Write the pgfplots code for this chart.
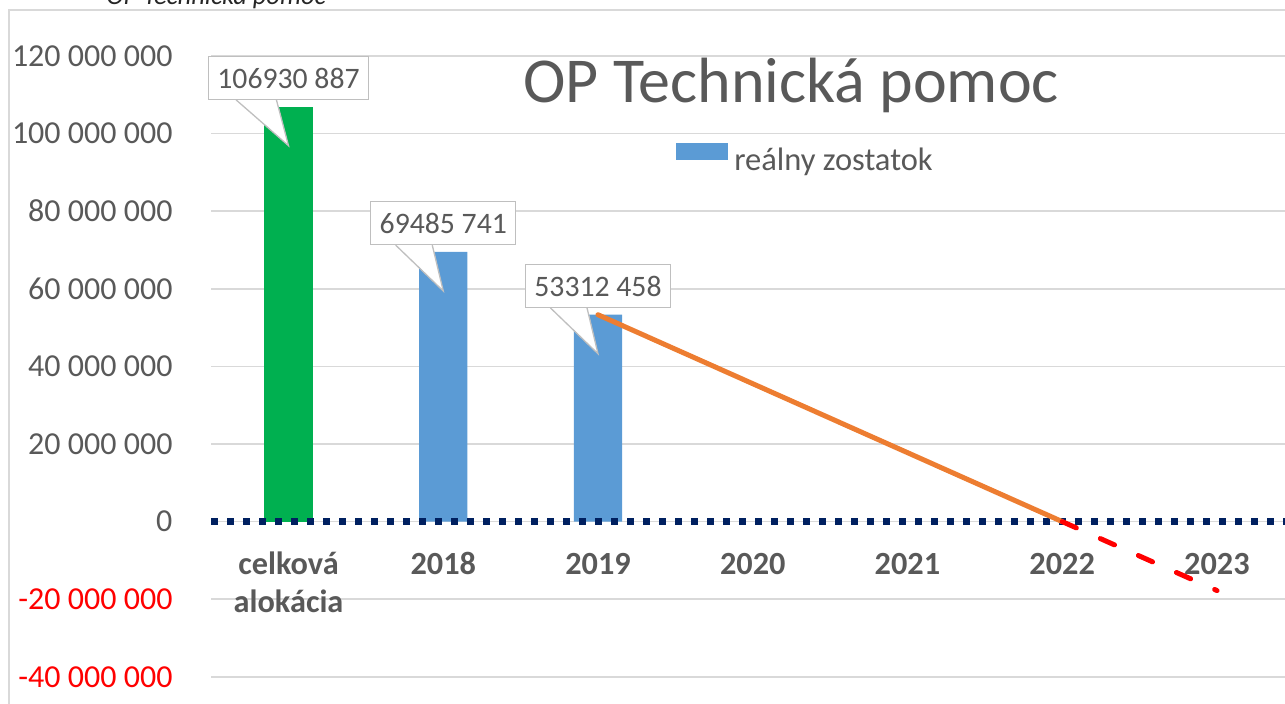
\documentclass[border=0pt]{standalone}
\usepackage{fontspec}
\setmainfont{Carlito}
\usepackage{pgfplots}
\pgfplotsset{compat=1.18}
\usepackage{pgfplotstable}
\usetikzlibrary{calc}
\definecolor{txtgray}{HTML}{595959}
\definecolor{gridgray}{HTML}{D9D9D9}
\definecolor{barblue}{HTML}{5B9BD5}
\definecolor{bargreen}{HTML}{00B050}
\definecolor{lineorange}{HTML}{ED7D31}
\definecolor{navyblue}{HTML}{002060}
\definecolor{calloutgray}{HTML}{BFBFBF}

\pgfplotstableread[col sep=comma]{
x,y,label
0,106930887,106930 887
}\alloc
\pgfplotstableread[col sep=comma]{
x,y,label
1,69485741,69485 741
2,53312458,53312 458
}\zostatok

\newcommand{\xl}[1]{\rule{0pt}{24pt}#1}

\begin{document}
\begin{tikzpicture}
\useasboundingbox (0,0) rectangle (1285pt,704pt);
\clip (0,0) rectangle (1285pt,704pt);
\draw[gridgray, line width=1.5pt] (9pt,-5pt) -- (9pt,694pt) -- (1290pt,694pt);
\node[anchor=base, font=\itshape\fontsize{26.5}{30}\selectfont, text=black!85] at (216pt,699.7pt) {OP Technická pomoc};
\begin{axis}[
  at={(211.15pt,0pt)}, anchor=south west,
  scale only axis, width=1073.85pt, height=704pt,
  xmin=-0.5, xmax=6.44, ymin=-47.01e6, ymax=134.43e6,
  axis x line*=bottom, axis y line*=left,
  axis line style={draw=none},
  major tick length=0pt,
  ymajorgrids, grid style={gridgray, line width=1.5pt},
  ytick={-40e6,-20e6,0,20e6,40e6,60e6,80e6,100e6,120e6},
  yticklabels={{\color{red}-40 000 000},{\color{red}-20 000 000},0,20 000 000,40 000 000,60 000 000,80 000 000,100 000 000,120 000 000},
  yticklabel style={anchor=east, inner sep=0pt, xshift=-38.5pt, font=\fontsize{32}{38}\selectfont, text=txtgray},
  xtick={0,1,2,3,4,5,6},
  xticklabels={{\xl{celková}\\alokácia},\xl{2018},\xl{2019},\xl{2020},\xl{2021},\xl{2022},\xl{2023}},
  xticklabel style={align=center, anchor=north, inner sep=0pt, yshift=154pt, font=\bfseries\fontsize{32.3}{38}\selectfont, text=txtgray},
  title={OP Technická pomoc},
  title style={at={(0.5400,0.8462)}, anchor=base, inner sep=0pt, font=\fontsize{64}{76}\selectfont, text=txtgray},
  legend style={at={(0.4329,0.7765)}, anchor=west, draw=none, fill=none, inner sep=0pt,
    font=\fontsize{32.5}{38}\selectfont, text=txtgray, nodes={inner sep=0pt}},
  legend image code/.code={\fill[barblue] (0pt,0pt) rectangle (52pt,17.5pt); \path (58pt,1pt);},
  every node near coord/.append style={
    anchor=center, yshift=29pt, font=\fontsize{29.7}{35}\selectfont, text=txtgray,
    fill=white, draw=calloutgray, line width=1.3pt, inner xsep=9pt, inner ysep=11pt,
    text height=21pt, text depth=0pt,
    append after command={\pgfextra{\let\LN\tikzlastnode
      \path[fill=white, draw=none] ([yshift=1.3pt]$(\LN.south west)!0.175!(\LN.south east)$) -- ([yshift=-68pt]\LN.center) -- ([yshift=1.3pt]$(\LN.south west)!0.425!(\LN.south east)$) -- cycle;
      \path[draw=calloutgray, fill=none, line width=1.3pt, line join=miter] ($(\LN.south west)!0.175!(\LN.south east)$) -- ([yshift=-68pt]\LN.center) -- ($(\LN.south west)!0.425!(\LN.south east)$);}}
  },
]
\addplot[ybar, bar width=0.313, bar shift=0pt, fill=bargreen, draw=none, forget plot,
  nodes near coords, point meta=explicit symbolic] table[x=x, y=y, meta=label] {\alloc};
\addplot[ybar, bar width=0.313, bar shift=0pt, fill=barblue, draw=none,
  nodes near coords, point meta=explicit symbolic] table[x=x, y=y, meta=label] {\zostatok};
\addlegendentry{reálny zostatok}
\addplot[navyblue, line width=6.5pt, dash pattern=on 6.5pt off 9.5pt, forget plot] coordinates {(-0.5,0) (6.6,0)};
\addplot[lineorange, line width=5pt, line cap=round, forget plot] coordinates {(2,53312458) (5,0)};
\addplot[red, line width=5pt, line cap=round, dash pattern=on 15.5pt off 26.2pt, forget plot] coordinates {(5,0) (6,-17770819)};
\end{axis}
\end{tikzpicture}
\end{document}
